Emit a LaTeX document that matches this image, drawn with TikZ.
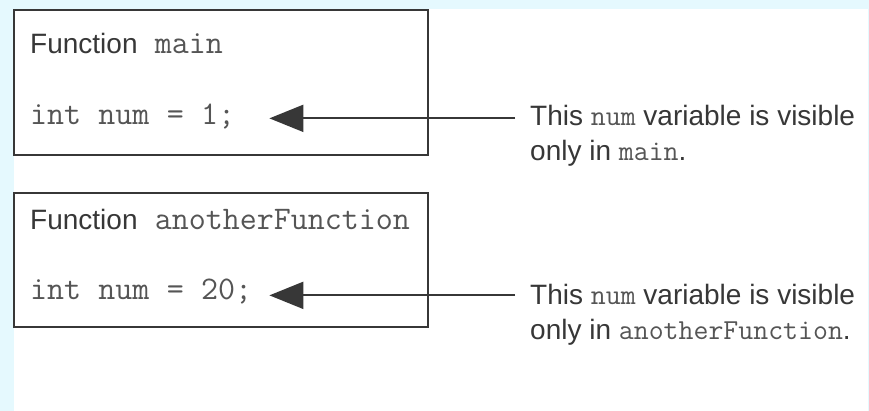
\documentclass[tikz,border=0pt]{standalone}
\usepackage{fontspec}
\setmainfont{Liberation Sans}
\usetikzlibrary{arrows.meta}
\definecolor{bgblue}{RGB}{229,249,254}
\definecolor{inkgray}{RGB}{55,55,55}
\definecolor{codegray}{RGB}{85,85,85}
\newcommand{\boxcode}[1]{{\color{codegray}\ttfamily\fontsize{33}{38}\selectfont #1}}
\newcommand{\notecode}[1]{{\color{codegray}\ttfamily\fontsize{29}{35}\selectfont #1}}
\newcommand{\cspace}{\hspace{0.525em}}
\tikzset{%
  fbox/.style={draw=inkgray,line width=2.5pt,fill=white,minimum width=414pt,minimum height=145pt,inner sep=0},
  headtxt/.style={anchor=base west,inner sep=0,text=inkgray,font=\fontsize{28}{34}\selectfont},
  codetxt/.style={anchor=base west,inner xsep=0,inner ysep=2pt,text width=239pt,align=left,text=codegray,font=\ttfamily\fontsize{33}{38}\selectfont},
  notetxt/.style={anchor=base west,inner xsep=15pt,inner ysep=0,align=left,text=inkgray,font=\fontsize{28}{35}\selectfont},
  pointer/.style={draw=inkgray,line width=2pt,-{Triangle[length=34pt,width=27pt]}}
}
\begin{document}
\begin{tikzpicture}[x=1pt,y=-1pt]
  \useasboundingbox (0,0) rectangle (869,411);
  \fill[bgblue] (0,0) rectangle (869,411);
  \fill[white] (14,9) rectangle (868,411);
  % the two functions
  \node[fbox] (mainbox) at (221,82.5) {};
  \node[fbox,minimum height=134pt] (otherbox) at (221,260) {};
  \node[headtxt] (head1) at (30,54) {Function\boxcode{\cspace main}};
  \node[codetxt] (code1) at (30,125) {int\cspace num\cspace =\cspace 1;};
  \node[headtxt] (head2) at (30,230) {Function\boxcode{\cspace anotherFunction}};
  \node[codetxt] (code2) at (30,300) {int\cspace num\cspace =\cspace 20;};
  % notes (base is the last line)
  \node[notetxt] (note1) at (515,161) {This \notecode{num} variable is visible\\only in \notecode{main}.};
  \node[notetxt] (note2) at (515,339) {This \notecode{num} variable is visible\\only in \notecode{anotherFunction}.};
  \draw[pointer] ([yshift=4pt]code1.mid east -| note1.west) -- ([yshift=4pt]code1.mid east);
  \draw[pointer] ([yshift=2pt]code2.mid east -| note2.west) -- ([yshift=2pt]code2.mid east);
\end{tikzpicture}
\end{document}
